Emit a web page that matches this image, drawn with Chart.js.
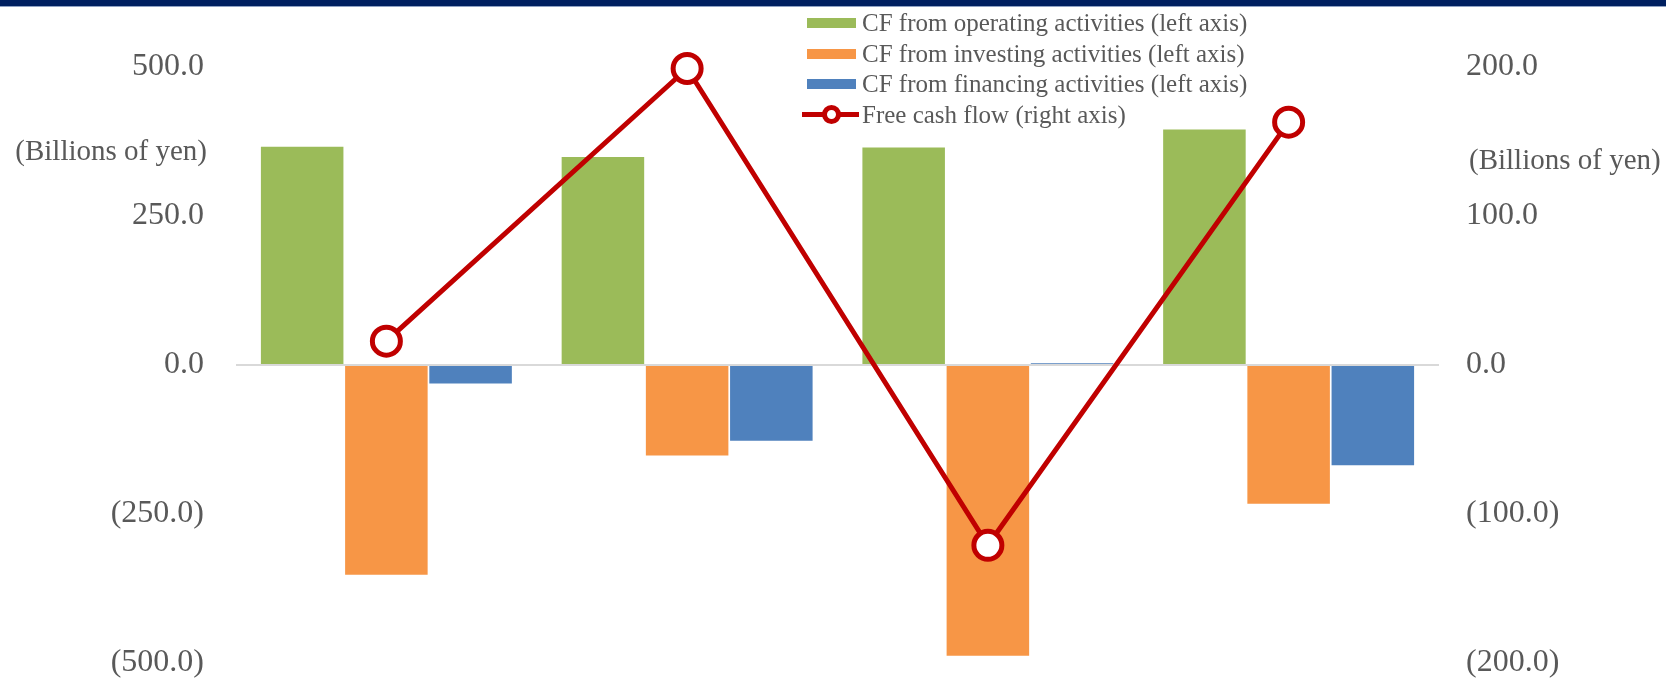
<!DOCTYPE html>
<html>
<head>
<meta charset="utf-8">
<script src="https://cdn.jsdelivr.net/npm/chart.js@4.4.1/dist/chart.umd.min.js"></script>
<style>
  html, body { margin:0; padding:0; background:#fff; }
  #wrap { position:relative; width:1666px; height:682px; overflow:hidden; }
  #band { position:absolute; left:0; top:0; width:1666px; height:6px; background:#002060; border-bottom:1px solid #8fa2c4; z-index:2; }
  #legend { position:absolute; left:802px; top:8px; font-family:"Liberation Serif","Times New Roman",serif; font-size:25px; color:#595959; z-index:2; }
  #legend .row { height:30.5px; display:flex; align-items:center; white-space:nowrap; }
  #legend .sw { width:49px; height:10px; margin:0 6px 0 5px; }
  #legend .ln { position:relative; width:57px; height:5px; margin-right:3px; }
  #legend .ln i { position:absolute; left:20px; top:-7px; width:9px; height:9px; border:5px solid #C00000; border-radius:50%; background:#fff; }
</style>
</head>
<body>
<div id="wrap">
  <div id="band"></div>
  <div id="legend"></div>
  <canvas id="cfCanvas" width="1666" height="682"></canvas>
</div>
<script>
// ---- Datos (miles de millones de yenes) ----
const categories = ['Year 1', 'Year 2', 'Year 3', 'Year 4'];
const operatingCF = [366, 349, 365, 395];
const investingCF = [-352, -152, -488, -233];
const financingCF = [-31, -127, 3, -168];
const freeCF      = [16, 199, -121, 163];

const leftTicks  = [-500, -250, 0, 250, 500];
const rightTicks = [-200, -100, 0, 100, 200];

const seriesNames = [
  'CF from operating activities (left axis)',
  'CF from investing activities (left axis)',
  'CF from financing activities (left axis)',
  'Free cash flow (right axis)'
];

(function(){
  'use strict';

  const FONT = '"Liberation Serif","Times New Roman",serif';
  const GREY = '#595959';
  const COLORS = ['#9BBB59', '#F79646', '#4F81BD', '#C00000'];

  // "(250.0)" para negativos
  const fmt = (v) => v < 0 ? `(${Math.abs(v).toFixed(1)})` : v.toFixed(1);

  // ancho fijo del eje y sin relleno vertical extra (ticks.padding lo suma arriba/abajo)
  const fitAxis = (w) => (s) => { s.width = w; s.paddingTop = 0; s.paddingBottom = 15; };

  // Leyenda HTML
  const legend = document.getElementById('legend');
  legend.innerHTML = seriesNames.map((name, i) => i < 3
    ? `<div class="row"><span class="sw" style="background:${COLORS[i]}"></span>${name}</div>`
    : `<div class="row"><span class="ln" style="background:${COLORS[i]}"><i></i></span>${name}</div>`
  ).join('');

  // Etiquetas "(Billions of yen)" en ambos ejes
  const unitLabels = {
    id: 'unitLabels',
    afterDraw(chart){
      const { ctx, chartArea } = chart;
      ctx.save();
      ctx.font = `29px ${FONT}`;
      ctx.fillStyle = GREY;
      ctx.textBaseline = 'middle';
      ctx.textAlign = 'right';
      ctx.fillText('(Billions of yen)', chartArea.left - 29, 152);
      ctx.textAlign = 'left';
      ctx.fillText('(Billions of yen)', chartArea.right + 30, 161);
      ctx.restore();
    }
  };

  const barSet = (i, data) => ({
    type: 'bar',
    label: seriesNames[i],
    data,
    yAxisID: 'y',
    backgroundColor: COLORS[i],
    categoryPercentage: 0.84,
    barPercentage: 0.98,
    order: 1
  });

  const ctx = document.getElementById('cfCanvas').getContext('2d');
  new Chart(ctx, {
    data: {
      labels: categories,
      datasets: [
        barSet(0, operatingCF),
        barSet(1, investingCF),
        barSet(2, financingCF),
        {
          type: 'line',
          label: seriesNames[3],
          data: freeCF,
          yAxisID: 'y1',
          borderColor: COLORS[3],
          borderWidth: 5,
          pointRadius: 14,
          pointBorderWidth: 5,
          pointBackgroundColor: '#fff',
          pointBorderColor: COLORS[3],
          tension: 0,
          clip: false,
          order: 0
        }
      ]
    },
    options: {
      responsive: false,
      animation: false,
      layout: { padding: { top: 67, bottom: 15, left: 0, right: 0 } },
      plugins: { legend: { display: false }, tooltip: { enabled: false } },
      scales: {
        x: { display: false },
        y: {
          position: 'left',
          min: -500, max: 500,
          afterBuildTicks: (s) => { s.ticks = leftTicks.map(v => ({ value: v })); },
          afterFit: fitAxis(236),
          border: { display: false },
          grid: {
            drawTicks: false,
            lineWidth: 2,
            color: (c) => c.tick && c.tick.value === 0 ? '#D9D9D9' : 'rgba(0,0,0,0)'
          },
          ticks: {
            padding: 32,
            color: GREY,
            font: { family: FONT, size: 32 },
            callback: (v) => fmt(v)
          }
        },
        y1: {
          position: 'right',
          min: -200, max: 200,
          afterBuildTicks: (s) => { s.ticks = rightTicks.map(v => ({ value: v })); },
          afterFit: fitAxis(227),
          border: { display: false },
          grid: { display: false, drawTicks: false },
          ticks: {
            padding: 27,
            color: GREY,
            font: { family: FONT, size: 32 },
            callback: (v) => fmt(v)
          }
        }
      }
    },
    plugins: [unitLabels]
  });
})();
</script>
</body>
</html>
